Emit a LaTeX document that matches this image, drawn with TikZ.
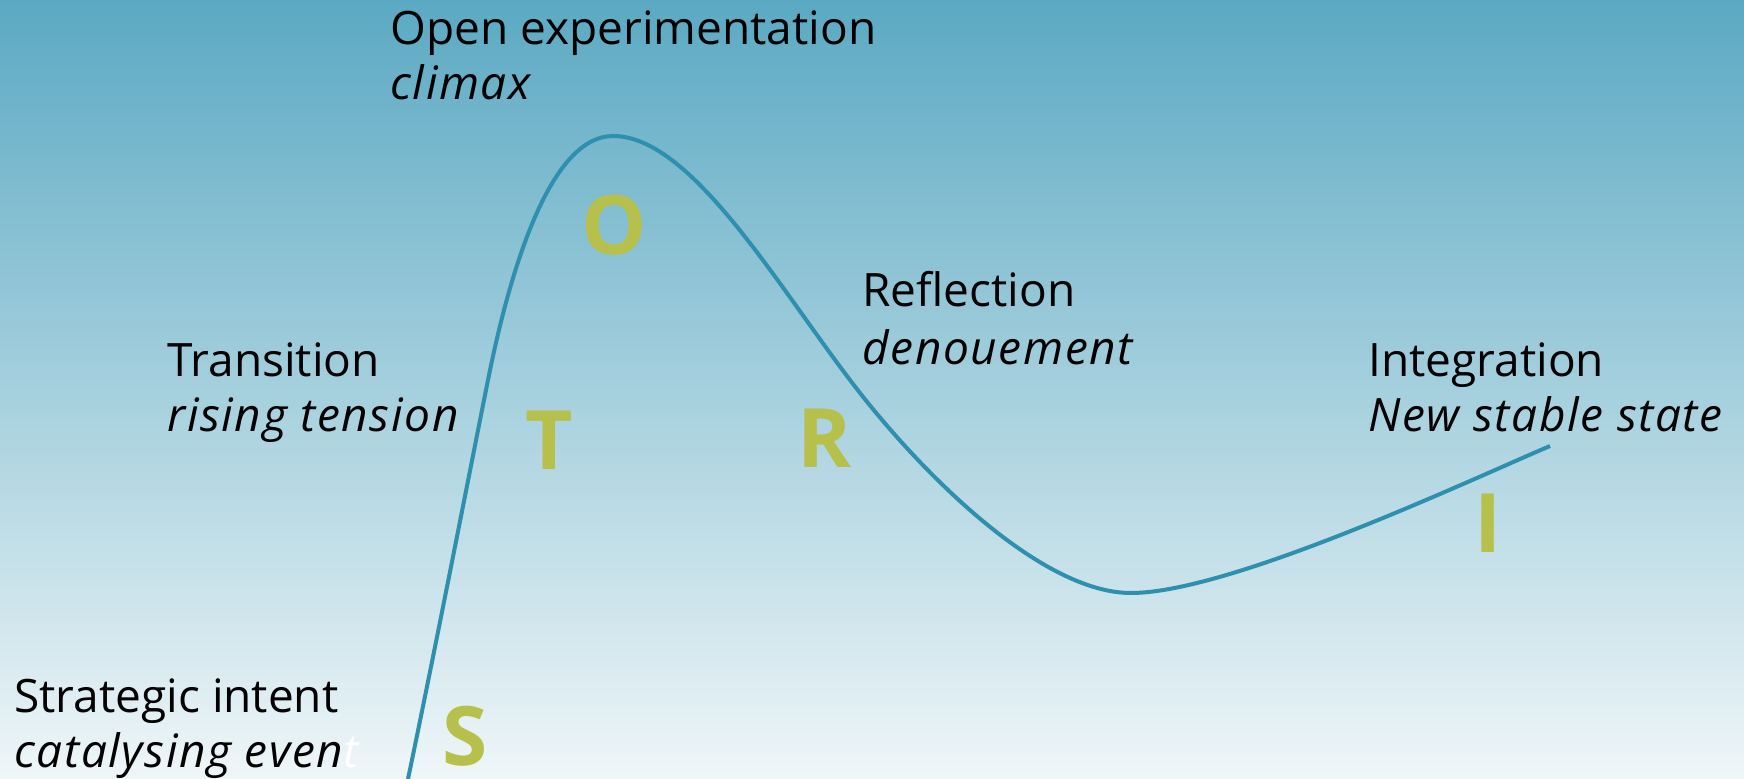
\documentclass[tikz,border=0pt]{standalone}
\usepackage{fontspec}
\setmainfont{Open Sans}
\definecolor{bgtop}{HTML}{5BA9C3}
\definecolor{bgbot}{HTML}{EFF6F8}
\definecolor{curvecol}{HTML}{2E8FAE}
\definecolor{lettercol}{HTML}{B6C04B}
\tikzset{
  lbl/.style={anchor=base west, inner sep=0pt, text=black, font=\fontsize{23}{28}\selectfont},
  lbli/.style={lbl, font=\fontsize{23}{28}\selectfont\itshape\addfontfeatures{LetterSpace=3.5}},
  bigletter/.style={anchor=center, inner sep=0pt, text=lettercol, font=\fontsize{41}{48}\selectfont\bfseries},
  curve/.style={draw=curvecol, line width=2pt}
}
\begin{document}
\begin{tikzpicture}[x=0.5pt,y=-0.5pt]
\useasboundingbox (0,0) rectangle (1744,779);
\shade[top color=bgtop, bottom color=bgbot] (0,0) rectangle (1744,779);
% curve
\coordinate (c0) at (408,779);
\coordinate (c1) at (488,380);
\coordinate (c2) at (613,136);
\coordinate (c3) at (850,380);
\coordinate (c4) at (1131,593);
\coordinate (c5) at (1550,446);
\draw[curve] (c0) .. controls (435,650) and (470,470) .. (c1)
  .. controls (510,270) and (550,136) .. (c2)
  .. controls (690,136) and (774,280) .. (c3)
  .. controls (918,470) and (1040,593) .. (c4)
  .. controls (1230,593) and (1470,480) .. (c5);
% labels
\node[lbl]  (open1) at (390,45)  {Open experimentation};
\node[lbli] (open2) at (390,100) {climax};
\node[lbl]  (trans1) at (167,377) {Transition};
\node[lbli] (trans2) at (167,432) {rising tension};
\node[lbl]  (strat1) at (14,712) {Strategic intent};
\node[lbli] (strat2) at (14,767) {catalysing even\textcolor{white}{t}};
\node[lbl]  (refl1) at (862,307) {Reflection};
\node[lbli] (refl2) at (862,365) {denouement};
\node[lbl]  (integ1) at (1368,377) {Integration};
\node[lbli] (integ2) at (1368,432) {New stable state};
% letters
\node[bigletter] (S) at (465,736) {S};
\node[bigletter] (T) at (549,440) {T};
\node[bigletter] (O) at (614,225) {O};
\node[bigletter] (R) at (825,438) {R};
\node[bigletter] (I) at (1488,523) {I};
\end{tikzpicture}
\end{document}
